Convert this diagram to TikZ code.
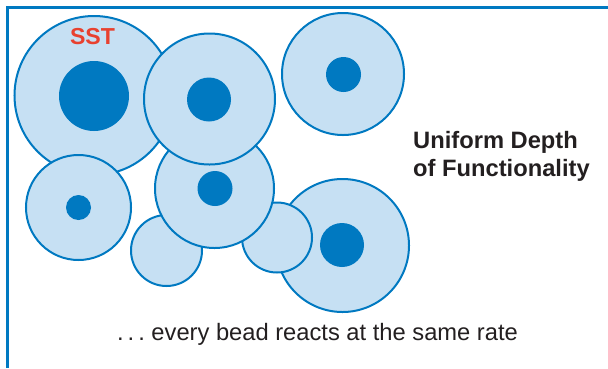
\documentclass[tikz,border=0pt]{standalone}
\usepackage{fontspec}
\setmainfont{Liberation Sans}
\definecolor{beadfill}{RGB}{198,224,243}
\definecolor{beadblue}{RGB}{0,121,193}
\definecolor{sstred}{RGB}{232,65,47}
\definecolor{inkdark}{RGB}{35,31,32}
\tikzset{
  bead/.style={circle, draw=beadblue, fill=beadfill, line width=2bp, inner sep=0pt, minimum size=#1},
  core/.style={circle, fill=beadblue, inner sep=0pt, minimum size=#1},
  frameline/.style={draw=beadblue, line width=2.2bp},
  titletext/.style={font=\fontsize{23.8}{28.5}\selectfont\bfseries, text=inkdark, inner sep=0pt},
  bodytext/.style={font=\fontsize{23.8}{28.5}\selectfont, text=inkdark, inner sep=0pt},
  ssttext/.style={font=\fontsize{23.2}{28}\selectfont\bfseries, text=sstred, inner sep=0pt}
}
\begin{document}
\begin{tikzpicture}[x=1bp,y=-1bp]
\useasboundingbox (0,0) rectangle (608,368);
\coordinate (fbl) at (7.4,368);
\coordinate (ftl) at (7.4,7.4);
\coordinate (ftr) at (608,7.4);
\draw[frameline] (fbl) -- (ftl) -- (ftr);
% SST bead
\node[bead=159bp] (b1) at (94,95.5) {};
\node[core=70bp] (k1) at (94,96) {};
% middle-left bead
\node[bead=105bp] (b4) at (78.5,207.5) {};
\node[core=25bp] (k4) at (78.5,207.5) {};
% lower-right bead
\node[bead=133bp] (b8) at (342.5,245.5) {};
\node[core=44bp] (k8) at (342,245) {};
% small beads
\node[bead=70bp] (b7) at (277,237.5) {};
\node[bead=71bp] (b6) at (166.5,250.5) {};
% middle-center bead
\node[bead=119bp] (b5) at (214.5,188.5) {};
\node[core=35bp] (k5) at (215,188.5) {};
% upper-center bead
\node[bead=131bp] (b2) at (209.5,99) {};
\node[core=44bp] (k2) at (209,99.5) {};
% upper-right bead
\node[bead=122bp] (b3) at (343,74) {};
\node[core=35bp] (k3) at (343.5,74.5) {};
% texts
\node[ssttext, anchor=base] (sst) at (92.5,44) {SST};
\node[titletext, anchor=base west] (t1) at (413,148) {Uniform Depth};
\node[titletext, anchor=base west] (t2) at (413,176.7) {of Functionality};
\node[bodytext, anchor=base west] (cap) at (117,340.7) {.\,.\,.\ every bead reacts at the same rate};
\end{tikzpicture}
\end{document}
